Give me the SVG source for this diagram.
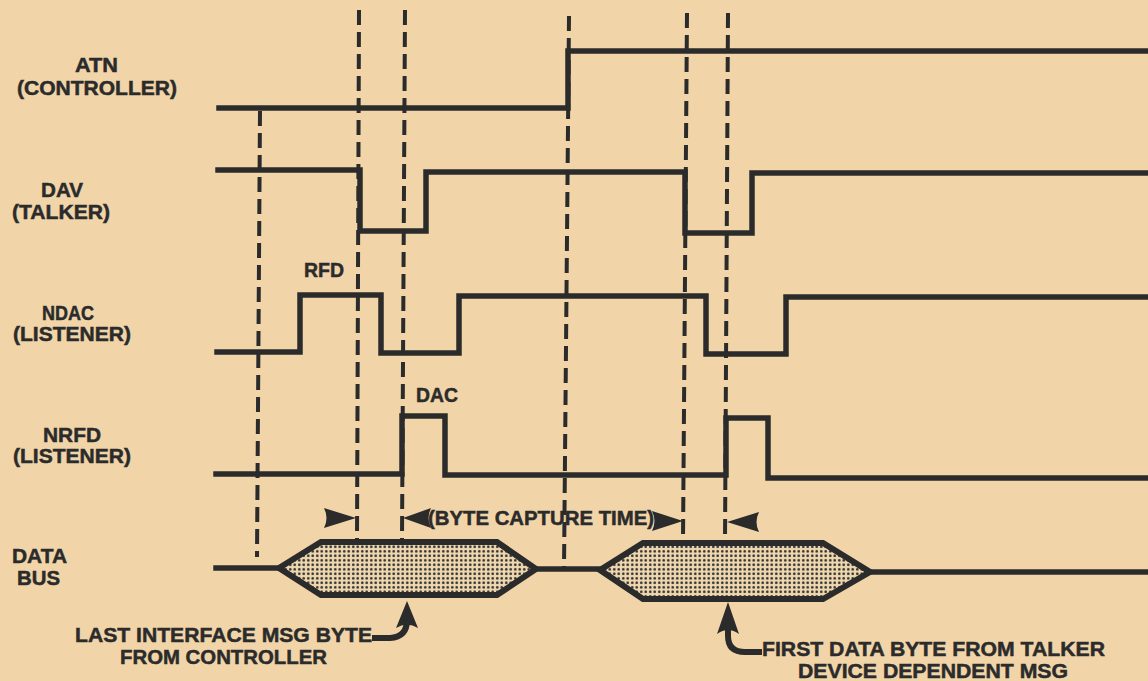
<svg xmlns="http://www.w3.org/2000/svg" width="1148" height="681" viewBox="0 0 1148 681">
<style>
.bg{fill:#f1d5a9}
.sig{fill:none;stroke:#2b2b2b;stroke-width:5.5;stroke-linejoin:miter;stroke-linecap:square}
.dash{fill:none;stroke:#2b2b2b;stroke-width:4;stroke-dasharray:15 7}
.lbl{font-family:"Liberation Sans",Arial,sans-serif;font-weight:bold;font-size:21px;fill:#2b2b2b;stroke:#2b2b2b;stroke-width:0.5}
.hex{fill:url(#dots);stroke:#2b2b2b;stroke-width:6;stroke-linejoin:miter}
.head{fill:#2b2b2b}
.shaft{fill:none;stroke:#2b2b2b;stroke-width:6}
</style>
<defs>
<pattern id="dots" width="4.5" height="4.5" patternUnits="userSpaceOnUse">
<rect width="4.5" height="4.5" fill="#efd8b0"/>
<circle cx="2.25" cy="2.25" r="1.35" fill="#2b2b2b"/>
</pattern>
</defs>
<rect class="bg" x="0" y="0" width="1148" height="681"/>

<g id="atn">
<text class="lbl" x="75" y="72" textLength="43" lengthAdjust="spacingAndGlyphs">ATN</text>
<text class="lbl" x="17" y="95" textLength="160" lengthAdjust="spacingAndGlyphs">(CONTROLLER)</text>
<path class="sig" d="M219,108 H568 V51 H1150"/>
</g>

<g id="dav">
<text class="lbl" x="41" y="197" textLength="42" lengthAdjust="spacingAndGlyphs">DAV</text>
<text class="lbl" x="12" y="219" textLength="98" lengthAdjust="spacingAndGlyphs">(TALKER)</text>
<path class="sig" d="M218,170 H360 V231 H426 V172 H685 V233 H752 V173 H1150"/>
</g>

<g id="ndac">
<text class="lbl" x="42" y="320" textLength="52" lengthAdjust="spacingAndGlyphs">NDAC</text>
<text class="lbl" x="13" y="341" textLength="118" lengthAdjust="spacingAndGlyphs">(LISTENER)</text>
<path class="sig" d="M217,352 H300 V295 H381 V353 H459 V296 H706 V354 H786 V297 H1150"/>
<text class="lbl" x="304" y="277" textLength="40" lengthAdjust="spacingAndGlyphs">RFD</text>
</g>

<g id="nrfd">
<text class="lbl" x="43" y="442" textLength="58" lengthAdjust="spacingAndGlyphs">NRFD</text>
<text class="lbl" x="13" y="463" textLength="118" lengthAdjust="spacingAndGlyphs">(LISTENER)</text>
<path class="sig" d="M216,474 H402 V416 H445 V475 H726 V418 H768 V478 H1150"/>
<text class="lbl" x="416" y="402" textLength="42" lengthAdjust="spacingAndGlyphs">DAC</text>
</g>

<g id="databus">
<text class="lbl" x="12" y="563" textLength="55" lengthAdjust="spacingAndGlyphs">DATA</text>
<text class="lbl" x="17" y="585" textLength="43" lengthAdjust="spacingAndGlyphs">BUS</text>
<path class="sig" d="M216,568 H279"/>
<path class="sig" d="M536,569 H600"/>
<path class="sig" d="M870,572 H1150"/>
<polygon id="byte1" class="hex" points="279,568 321,542 497,542 536,569 497,595 321,595"/>
<polygon id="byte2" class="hex" points="600,570 643,543 823,543 870,572 823,599 643,599"/>
</g>

<g id="connectors">
<line class="dash" x1="260" y1="111" x2="257" y2="557"/>
<line class="dash" x1="359" y1="10" x2="357" y2="540"/>
<line class="dash" x1="405" y1="10" x2="402" y2="540"/>
<line class="dash" x1="569" y1="16" x2="564" y2="569"/>
<line class="dash" x1="687" y1="13" x2="683" y2="541"/>
<line class="dash" x1="728" y1="13" x2="725" y2="541"/>
</g>

<g id="byte-capture">
<path class="head" d="M356,518 L324,508 Q329,518 324,528 Z"/>
<path class="head" d="M403,518 L431,508 Q426,518 431,528 Z"/>
<text class="lbl" x="428" y="525" textLength="226" lengthAdjust="spacingAndGlyphs">(BYTE CAPTURE TIME)</text>
<path class="head" d="M683,521 L652,511 Q657,521 652,531 Z"/>
<path class="head" d="M727,522 L759,512 Q754,522 759,532 Z"/>
</g>

<g id="note-last">
<text class="lbl" x="75" y="642" textLength="297" lengthAdjust="spacingAndGlyphs">LAST INTERFACE MSG BYTE</text>
<text class="lbl" x="120" y="664" textLength="207" lengthAdjust="spacingAndGlyphs">FROM CONTROLLER</text>
<path class="shaft" d="M372,638 H390 Q407,637 407,620 V624"/>
<path class="head" d="M407,601 L396,628 Q407,621 418,628 Z"/>
</g>

<g id="note-first">
<text class="lbl" x="762" y="656" textLength="343" lengthAdjust="spacingAndGlyphs">FIRST DATA BYTE FROM TALKER</text>
<text class="lbl" x="798" y="678" textLength="270" lengthAdjust="spacingAndGlyphs">DEVICE DEPENDENT MSG</text>
<path class="shaft" d="M728,628 V636 Q728,652 745,652 H762"/>
<path class="head" d="M728,602 L717,634 Q728,626 739,634 Z"/>
</g>
</svg>
